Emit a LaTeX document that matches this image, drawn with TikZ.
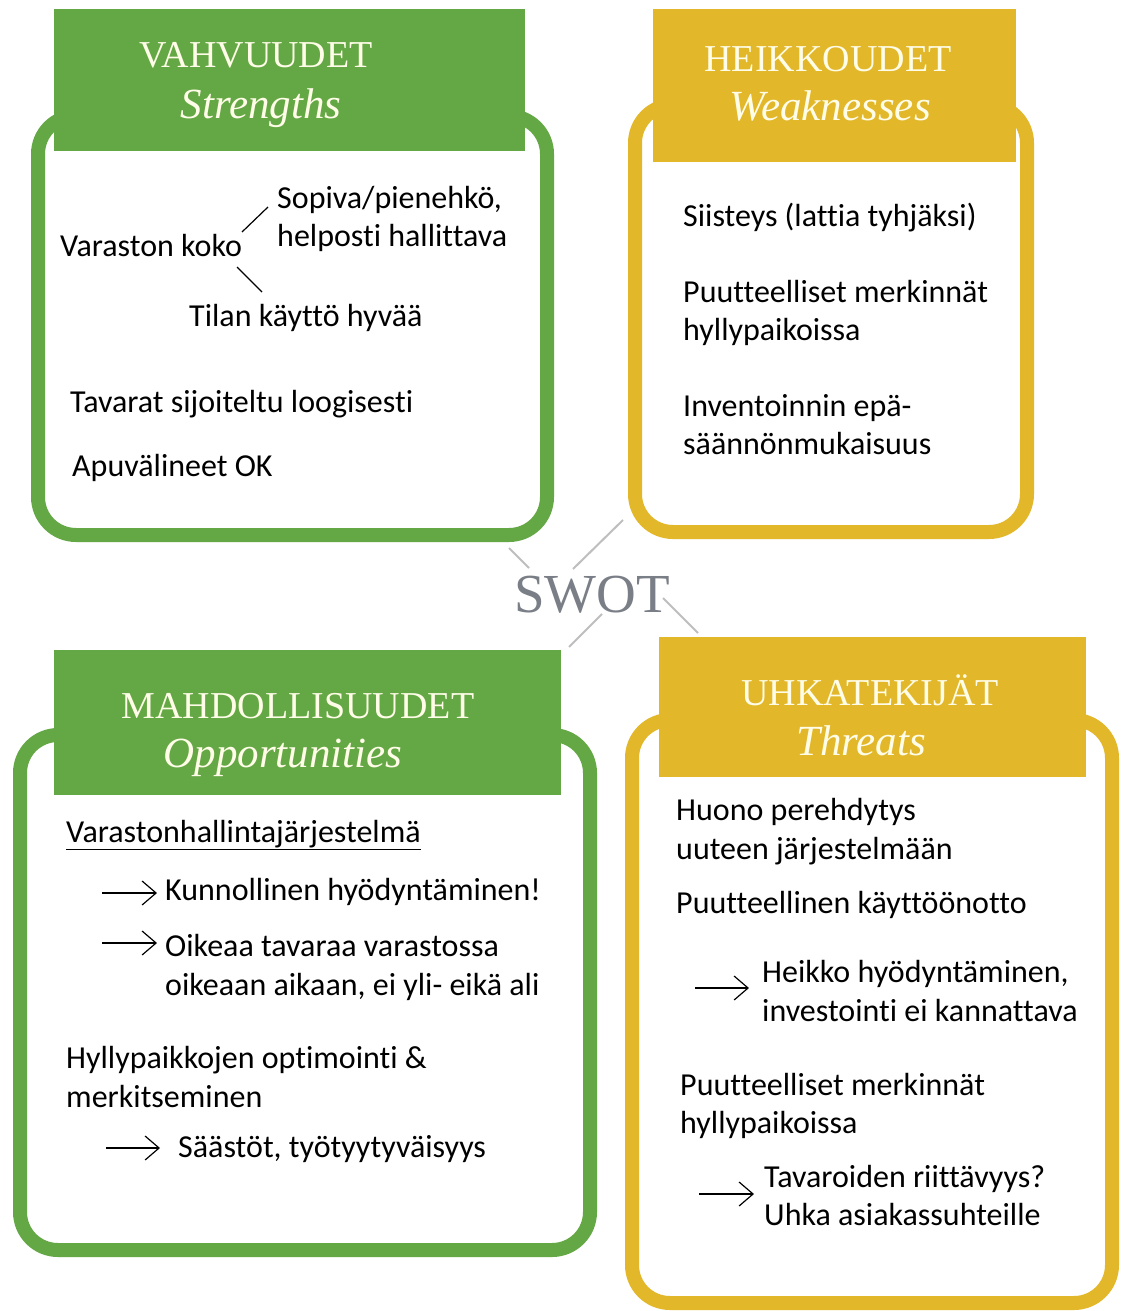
\documentclass[tikz,border=0pt]{standalone}
\usepackage{fontspec}
\setmainfont{Carlito}[Ligatures=NoCommon]
\newfontfamily\hdrfont{Liberation Serif}
\usetikzlibrary{arrows.meta}
\definecolor{swgreen}{RGB}{100,167,69}
\definecolor{swyellow}{RGB}{226,183,42}
\definecolor{hdrtext}{RGB}{255,253,232}
\definecolor{swotgray}{RGB}{122,126,134}
\definecolor{linegray}{RGB}{190,190,190}
\begin{document}
\begin{tikzpicture}[x=1pt,y=-1pt,
  frame/.style={line width=14pt, rounded corners=38pt},
  htitle/.style={font=\hdrfont\fontsize{38}{40}\selectfont, text=hdrtext, anchor=base, inner sep=0},
  hsub/.style={font=\hdrfont\itshape\fontsize{43}{45}\selectfont, text=hdrtext, anchor=base, inner sep=0},
  body/.style={font=\fontsize{32}{38}\selectfont, anchor=base west, inner sep=0, text=black},
  arr/.style={-{Straight Barb[length=14pt,width=24pt,line width=1.2pt]}, line width=1.5pt},
  thin/.style={line width=1.2pt},
  glin/.style={linegray, line width=2pt}
]
\useasboundingbox (0,0) rectangle (1120,1311);
\fill[white] (0,0) rectangle (1120,1311);

% frames
\draw[frame, swgreen] (38,116) rectangle (547,535);
\draw[frame, swyellow] (635,105) rectangle (1027,532);
\draw[frame, swgreen] (20,735) rectangle (590,1250);
\draw[frame, swyellow] (632,720) rectangle (1112,1303);

% header bars
\fill[swgreen] (54,9) rectangle (525,151);
\fill[swyellow] (653,9) rectangle (1016,162);
\fill[swgreen] (54,650) rectangle (561,795);
\fill[swyellow] (659,637) rectangle (1086,777);

% header texts
\node[htitle] (hS) at (256,68) {VAHVUUDET};
\node[hsub] (sS) at (261,118) {Strengths};
\node[htitle] (hW) at (828,72) {HEIKKOUDET};
\node[hsub] (sW) at (830,121) {Weaknesses};
\node[htitle] (hO) at (298,718) {MAHDOLLISUUDET};
\node[hsub] (sO) at (283,767) {Opportunities};
\node[htitle] (hT) at (870,705) {UHKATEKIJÄT};
\node[hsub] (sT) at (861,755) {Threats};

% SWOT centre
\node[font=\hdrfont\fontsize{55}{60}\selectfont, text=swotgray, anchor=base, inner sep=0] (swot) at (592,612) {SWOT};
\coordinate (g1a) at (509,548); \coordinate (g1b) at (529,568);
\coordinate (g2a) at (623,520); \coordinate (g2b) at (573,569);
\coordinate (g3a) at (602,614); \coordinate (g3b) at (569,647);
\coordinate (g4a) at (663,598); \coordinate (g4b) at (698,633);
\draw[glin] (g1a) -- (g1b);
\draw[glin] (g2a) -- (g2b);
\draw[glin] (g3a) -- (g3b);
\draw[glin] (g4a) -- (g4b);

% Strengths
\node[body] (s1a) at (277,208) {Sopiva/pienehkö,};
\node[body] (s1b) at (277,246) {helposti hallittava};
\node[body] (s0) at (60,256) {Varaston koko};
\node[body] (s2) at (189,326) {Tilan käyttö hyvää};
\node[body] (s3) at (70,412) {Tavarat sijoiteltu loogisesti};
\node[body] (s4) at (72,476) {Apuvälineet OK};
\coordinate (sl1a) at (242,232); \coordinate (sl1b) at (268,207);
\coordinate (sl2a) at (237,267); \coordinate (sl2b) at (262,292);
\draw[thin] (sl1a) -- (sl1b);
\draw[thin] (sl2a) -- (sl2b);

% Weaknesses
\node[body] (w1) at (683,226) {Siisteys (lattia tyhjäksi)};
\node[body] (w2a) at (683,302) {Puutteelliset merkinnät};
\node[body] (w2b) at (683,340) {hyllypaikoissa};
\node[body] (w3a) at (683,416) {Inventoinnin epä-};
\node[body] (w3b) at (683,454) {säännönmukaisuus};

% Opportunities
\node[body] (o1) at (66,842) {\underline{Varastonhallintajärjestelmä}};
\node[body] (o2) at (165,900) {Kunnollinen hyödyntäminen!};
\node[body] (o3a) at (165,956) {Oikeaa tavaraa varastossa};
\node[body] (o3b) at (165,995) {oikeaan aikaan, ei yli- eikä ali};
\node[body] (o4a) at (66,1068) {Hyllypaikkojen optimointi \&};
\node[body] (o4b) at (66,1107) {merkitseminen};
\node[body] (o5) at (178,1157) {Säästöt, työtyytyväisyys};
\coordinate (oa1) at (102,893);
\coordinate (oa2) at (102,943);
\coordinate (oa3) at (106,1148);
\draw[arr] (oa1) -- ([xshift=-8pt]oa1 -| o2.west);
\draw[arr] (oa2) -- ([xshift=-8pt]oa2 -| o3a.west);
\draw[arr] (oa3) -- ([xshift=-18pt]oa3 -| o5.west);

% Threats
\node[body] (t1a) at (676,820) {Huono perehdytys};
\node[body] (t1b) at (676,859) {uuteen järjestelmään};
\node[body] (t2) at (676,913) {Puutteellinen käyttöönotto};
\node[body] (t3a) at (762,982) {Heikko hyödyntäminen,};
\node[body] (t3b) at (762,1021) {investointi ei kannattava};
\node[body] (t4a) at (680,1095) {Puutteelliset merkinnät};
\node[body] (t4b) at (680,1133) {hyllypaikoissa};
\node[body] (t5a) at (764,1187) {Tavaroiden riittävyys?};
\node[body] (t5b) at (764,1225) {Uhka asiakassuhteille};
\coordinate (ta1) at (695,988);
\coordinate (ta2) at (699,1194);
\draw[arr] (ta1) -- ([xshift=-13pt]ta1 -| t3a.west);
\draw[arr] (ta2) -- ([xshift=-10pt]ta2 -| t5a.west);
\end{tikzpicture}
\end{document}
